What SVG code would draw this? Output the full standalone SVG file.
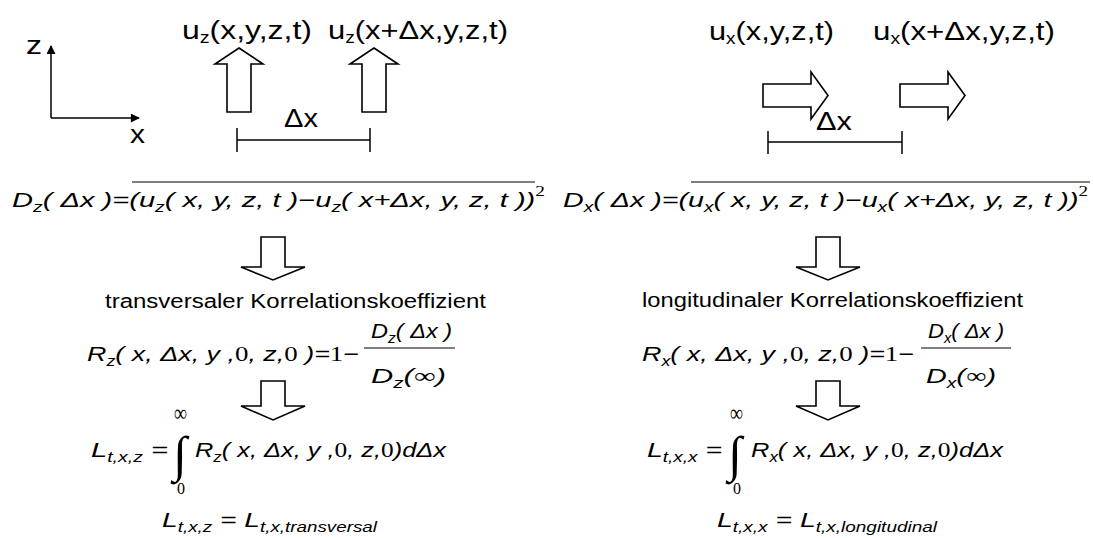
<svg xmlns="http://www.w3.org/2000/svg" width="1094" height="538" viewBox="0 0 1094 538">
<defs>
<style>
.t{font-family:"Liberation Sans",Arial,sans-serif;font-size:26px;fill:#000}
.lb{font-family:"Liberation Sans",Arial,sans-serif;font-size:20px;fill:#000}
.m{font-family:"Liberation Sans",Arial,sans-serif;font-style:italic;font-size:21px;fill:#000}
.ts{font-size:16px}
.s{font-size:14px}
.n{font-family:"Liberation Serif","Times New Roman",serif;font-style:normal}
.lim{font-family:"Liberation Serif","Times New Roman",serif;font-size:16px;fill:#000}
.inf{font-family:"Liberation Serif","Times New Roman",serif;font-size:24px;fill:#000}
.blk{fill:#fff;stroke:#000;stroke-width:1.6;stroke-linejoin:miter}
.ln{stroke:#000;stroke-width:1.5;fill:none}
.bar{stroke:#000;stroke-width:1.2;fill:none}
</style>
<marker id="ah" viewBox="0 0 10 10" refX="9" refY="5" markerWidth="10" markerHeight="9" markerUnits="userSpaceOnUse" orient="auto">
<path d="M0,0 L10,5 L0,10 z" fill="#000"/>
</marker>
</defs>
<rect width="1094" height="538" fill="#fff"/>

<g id="axes">
<line class="ln" x1="51" y1="118" x2="51" y2="46" marker-end="url(#ah)"/>
<line class="ln" x1="51" y1="118" x2="139" y2="118" marker-end="url(#ah)"/>
<text class="t" x="26" y="54" textLength="16" lengthAdjust="spacingAndGlyphs">z</text>
<text class="t" x="130" y="143" textLength="15" lengthAdjust="spacingAndGlyphs">x</text>
</g>

<g id="uz-labels">
<text class="t" x="182" y="39" textLength="130" lengthAdjust="spacingAndGlyphs">u<tspan class="ts" dy="4">z</tspan><tspan dy="-4">(x,y,z,t)</tspan></text>
<text class="t" x="328" y="39" textLength="180" lengthAdjust="spacingAndGlyphs">u<tspan class="ts" dy="4">z</tspan><tspan dy="-4">(x+Δx,y,z,t)</tspan></text>
</g>

<g id="uz-arrows">
<polygon class="blk" points="239,48 263,64 251,64 251,112 227,112 227,64 215,64"/>
<polygon class="blk" points="374,48 398,64 386,64 386,112 362,112 362,64 350,64"/>
</g>

<g id="dx-left">
<line class="ln" x1="237" y1="140" x2="370" y2="140"/>
<line class="ln" x1="237" y1="128" x2="237" y2="152"/>
<line class="ln" x1="370" y1="128" x2="370" y2="152"/>
<text class="t" x="284" y="127" textLength="34" lengthAdjust="spacingAndGlyphs">Δx</text>
</g>

<g id="ux-labels">
<text class="t" x="709" y="40" textLength="125" lengthAdjust="spacingAndGlyphs">u<tspan class="ts" dy="4">x</tspan><tspan dy="-4">(x,y,z,t)</tspan></text>
<text class="t" x="873" y="40" textLength="182" lengthAdjust="spacingAndGlyphs">u<tspan class="ts" dy="4">x</tspan><tspan dy="-4">(x+Δx,y,z,t)</tspan></text>
</g>

<g id="ux-arrows">
<polygon class="blk" points="763,84 811,84 811,72 828,95.5 811,119 811,107 763,107"/>
<polygon class="blk" points="900,84 948,84 948,72 965,95.5 948,119 948,107 900,107"/>
</g>

<g id="dx-right">
<line class="ln" x1="768" y1="142" x2="902" y2="142"/>
<line class="ln" x1="768" y1="131" x2="768" y2="154"/>
<line class="ln" x1="902" y1="131" x2="902" y2="154"/>
<text class="t" x="816" y="130" textLength="36" lengthAdjust="spacingAndGlyphs">Δx</text>
</g>

<g id="dz-formula">
<line class="bar" x1="132" y1="182" x2="535" y2="182"/>
<text class="m" x="12" y="207" textLength="533" lengthAdjust="spacingAndGlyphs">D<tspan class="s" dy="5">z</tspan><tspan dy="-5">( Δx )=(u</tspan><tspan class="s" dy="5">z</tspan><tspan dy="-5">( x, y, z, t )−u</tspan><tspan class="s" dy="5">z</tspan><tspan dy="-5">( x+Δx, y, z, t ))</tspan><tspan class="s n" dy="-11">2</tspan></text>
</g>

<g id="dx-formula">
<line class="bar" x1="691" y1="182" x2="1090" y2="182"/>
<text class="m" x="563" y="207" textLength="525" lengthAdjust="spacingAndGlyphs">D<tspan class="s" dy="5">x</tspan><tspan dy="-5">( Δx )=(u</tspan><tspan class="s" dy="5">x</tspan><tspan dy="-5">( x, y, z, t )−u</tspan><tspan class="s" dy="5">x</tspan><tspan dy="-5">( x+Δx, y, z, t ))</tspan><tspan class="s n" dy="-11">2</tspan></text>
</g>

<g id="rz-formula">
<text class="lb" x="105" y="308" textLength="381" lengthAdjust="spacingAndGlyphs">transversaler Korrelationskoeffizient</text>
<text class="m" x="87" y="361" textLength="272" lengthAdjust="spacingAndGlyphs">R<tspan class="s" dy="5">z</tspan><tspan dy="-5">( x, Δx, y ,</tspan><tspan class="n">0</tspan><tspan>, z,</tspan><tspan class="n">0</tspan><tspan> )=</tspan><tspan class="n">1</tspan><tspan>−</tspan></text>
<line class="bar" x1="364" y1="348" x2="455" y2="348"/>
<text class="m" x="371" y="338" textLength="81" lengthAdjust="spacingAndGlyphs">D<tspan class="s" dy="5">z</tspan><tspan dy="-5">( Δx )</tspan></text>
<text class="m" x="371" y="383" textLength="75" lengthAdjust="spacingAndGlyphs">D<tspan class="s" dy="5">z</tspan><tspan dy="-5">(</tspan><tspan class="n">∞</tspan><tspan>)</tspan></text>
</g>

<g id="rx-formula">
<text class="lb" x="642" y="307" textLength="381" lengthAdjust="spacingAndGlyphs">longitudinaler Korrelationskoeffizient</text>
<text class="m" x="642" y="361" textLength="272" lengthAdjust="spacingAndGlyphs">R<tspan class="s" dy="5">x</tspan><tspan dy="-5">( x, Δx, y ,</tspan><tspan class="n">0</tspan><tspan>, z,</tspan><tspan class="n">0</tspan><tspan> )=</tspan><tspan class="n">1</tspan><tspan>−</tspan></text>
<line class="bar" x1="921" y1="348" x2="1011" y2="348"/>
<text class="m" x="928" y="338" textLength="76" lengthAdjust="spacingAndGlyphs">D<tspan class="s" dy="5">x</tspan><tspan dy="-5">( Δx )</tspan></text>
<text class="m" x="926" y="383" textLength="70" lengthAdjust="spacingAndGlyphs">D<tspan class="s" dy="5">x</tspan><tspan dy="-5">(</tspan><tspan class="n">∞</tspan><tspan>)</tspan></text>
</g>

<g id="lz-formula">
<text class="m" x="91" y="457" textLength="77" lengthAdjust="spacingAndGlyphs">L<tspan class="s" dy="5">t,x,z</tspan><tspan dy="-5"> =</tspan></text>
<text class="n" x="173" y="471" style="font-size:50px">∫</text>
<text class="inf" x="174" y="421" textLength="13" lengthAdjust="spacingAndGlyphs">∞</text>
<text class="lim" x="177" y="494">0</text>
<text class="m" x="195" y="457" textLength="251" lengthAdjust="spacingAndGlyphs">R<tspan class="s" dy="5">z</tspan><tspan dy="-5">( x, Δx, y ,</tspan><tspan class="n">0</tspan><tspan>, z,</tspan><tspan class="n">0</tspan><tspan>)dΔx</tspan></text>
<text class="m" x="162" y="527" textLength="215" lengthAdjust="spacingAndGlyphs">L<tspan class="s" dy="5">t,x,z</tspan><tspan dy="-5"> = L</tspan><tspan class="s" dy="5">t,x,transversal</tspan></text>
</g>

<g id="lx-formula">
<text class="m" x="647" y="457" textLength="75" lengthAdjust="spacingAndGlyphs">L<tspan class="s" dy="5">t,x,x</tspan><tspan dy="-5"> =</tspan></text>
<text class="n" x="728" y="471" style="font-size:50px">∫</text>
<text class="inf" x="730" y="421" textLength="13" lengthAdjust="spacingAndGlyphs">∞</text>
<text class="lim" x="733" y="494">0</text>
<text class="m" x="751" y="457" textLength="252" lengthAdjust="spacingAndGlyphs">R<tspan class="s" dy="5">x</tspan><tspan dy="-5">( x, Δx, y ,</tspan><tspan class="n">0</tspan><tspan>, z,</tspan><tspan class="n">0</tspan><tspan>)dΔx</tspan></text>
<text class="m" x="717" y="527" textLength="220" lengthAdjust="spacingAndGlyphs">L<tspan class="s" dy="5">t,x,x</tspan><tspan dy="-5"> = L</tspan><tspan class="s" dy="5">t,x,longitudinal</tspan></text>
</g>

<g id="connectors">
<polygon class="blk" points="261,237 285,237 285,267 305,267 273,280 241,267 261,267"/>
<polygon class="blk" points="261,381 285,381 285,406 305,406 273,420 241,406 261,406"/>
<polygon class="blk" points="816,237 840,237 840,267 860,267 828,280 796,267 816,267"/>
<polygon class="blk" points="816,381 840,381 840,406 860,406 828,420 796,406 816,406"/>
</g>
</svg>
